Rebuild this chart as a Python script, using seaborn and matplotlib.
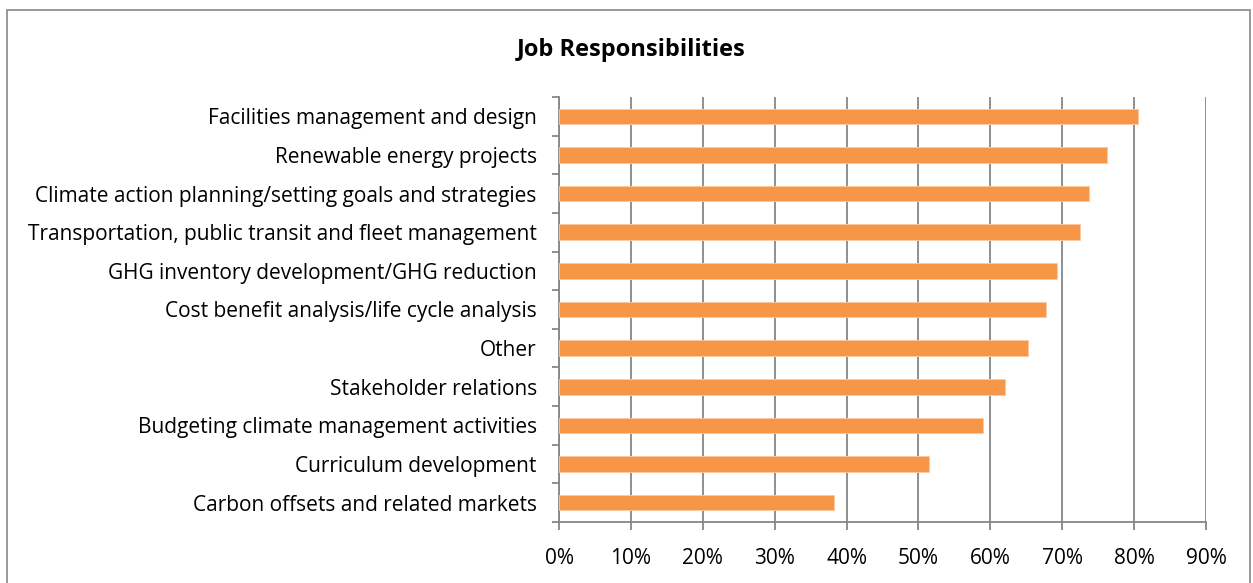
import matplotlib
matplotlib.use("Agg")
import matplotlib.pyplot as plt
import seaborn as sns
import pandas as pd
from matplotlib.patches import Rectangle
from matplotlib.ticker import FuncFormatter, FixedLocator

# Share of respondents reporting each job responsibility (%)
responsibilities = [
    "Facilities management and design",
    "Renewable energy projects",
    "Climate action planning/setting goals and strategies",
    "Transportation, public transit and fleet management",
    "GHG inventory development/GHG reduction",
    "Cost benefit analysis/life cycle analysis",
    "Other",
    "Stakeholder relations",
    "Budgeting climate management activities",
    "Curriculum development",
    "Carbon offsets and related markets",
]
shares = [80.5, 76.2, 73.7, 72.5, 69.3, 67.8, 65.3, 62.1, 59.0, 51.4, 38.2]
x_ticks = [0, 10, 20, 30, 40, 50, 60, 70, 80, 90]

df = pd.DataFrame({"responsibility": responsibilities, "share": shares})

sns.set_theme(style="white")
plt.rcParams["font.family"] = ["Open Sans", "DejaVu Sans"]

W, H = 1253, 583
fig = plt.figure(figsize=(W / 100, H / 100), dpi=100)
fig.patch.set_facecolor("white")

grey = "#878787"

# Chart-area frame
fig.patches.append(Rectangle((7 / W, 0 - 0.02), (1250 - 7) / W, 1 - 10 / H + 0.02,
                             transform=fig.transFigure, fill=False,
                             edgecolor=grey, linewidth=1.2, zorder=0))

left, right, top, bottom = 559, 1206, 97, 522
ax = fig.add_axes([left / W, 1 - bottom / H, (right - left) / W, (bottom - top) / H])

sns.barplot(data=df, x="share", y="responsibility", orient="h",
            color="#F79646", saturation=1, width=0.4,
            edgecolor="#FBC9A3", linewidth=0.6, ax=ax, zorder=3)

ax.set_xlim(0, 90)
ax.set_ylim(len(responsibilities) - 0.5, -0.5)
ax.xaxis.set_major_locator(FixedLocator(x_ticks))
ax.xaxis.set_major_formatter(FuncFormatter(lambda v, _: f"{v:.0f}%"))
ax.grid(axis="x", color=grey, linewidth=1.3, zorder=0)
ax.grid(axis="y", visible=False)

for side in ("top", "right"):
    ax.spines[side].set_visible(False)
for side in ("left", "bottom"):
    ax.spines[side].set_color(grey)
    ax.spines[side].set_linewidth(1.3)

ax.set_xlabel("")
ax.set_ylabel("")

ax.tick_params(axis="x", which="major", direction="out", length=6, width=1.3,
               color=grey, labelsize=15, labelcolor="black", pad=13, bottom=True)
ax.tick_params(axis="y", which="major", length=0, labelsize=15,
               labelcolor="black", pad=16)
ax.yaxis.set_minor_locator(FixedLocator([i - 0.5 for i in range(len(responsibilities) + 1)]))
ax.tick_params(axis="y", which="minor", direction="out", length=5, width=1.3,
               color=grey, left=True)

fig.text(631 / W, 1 - 50 / H, "Job Responsibilities", ha="center", va="center",
         fontsize=17, fontweight="bold", color="black")

fig.savefig("out.png", dpi=100)
